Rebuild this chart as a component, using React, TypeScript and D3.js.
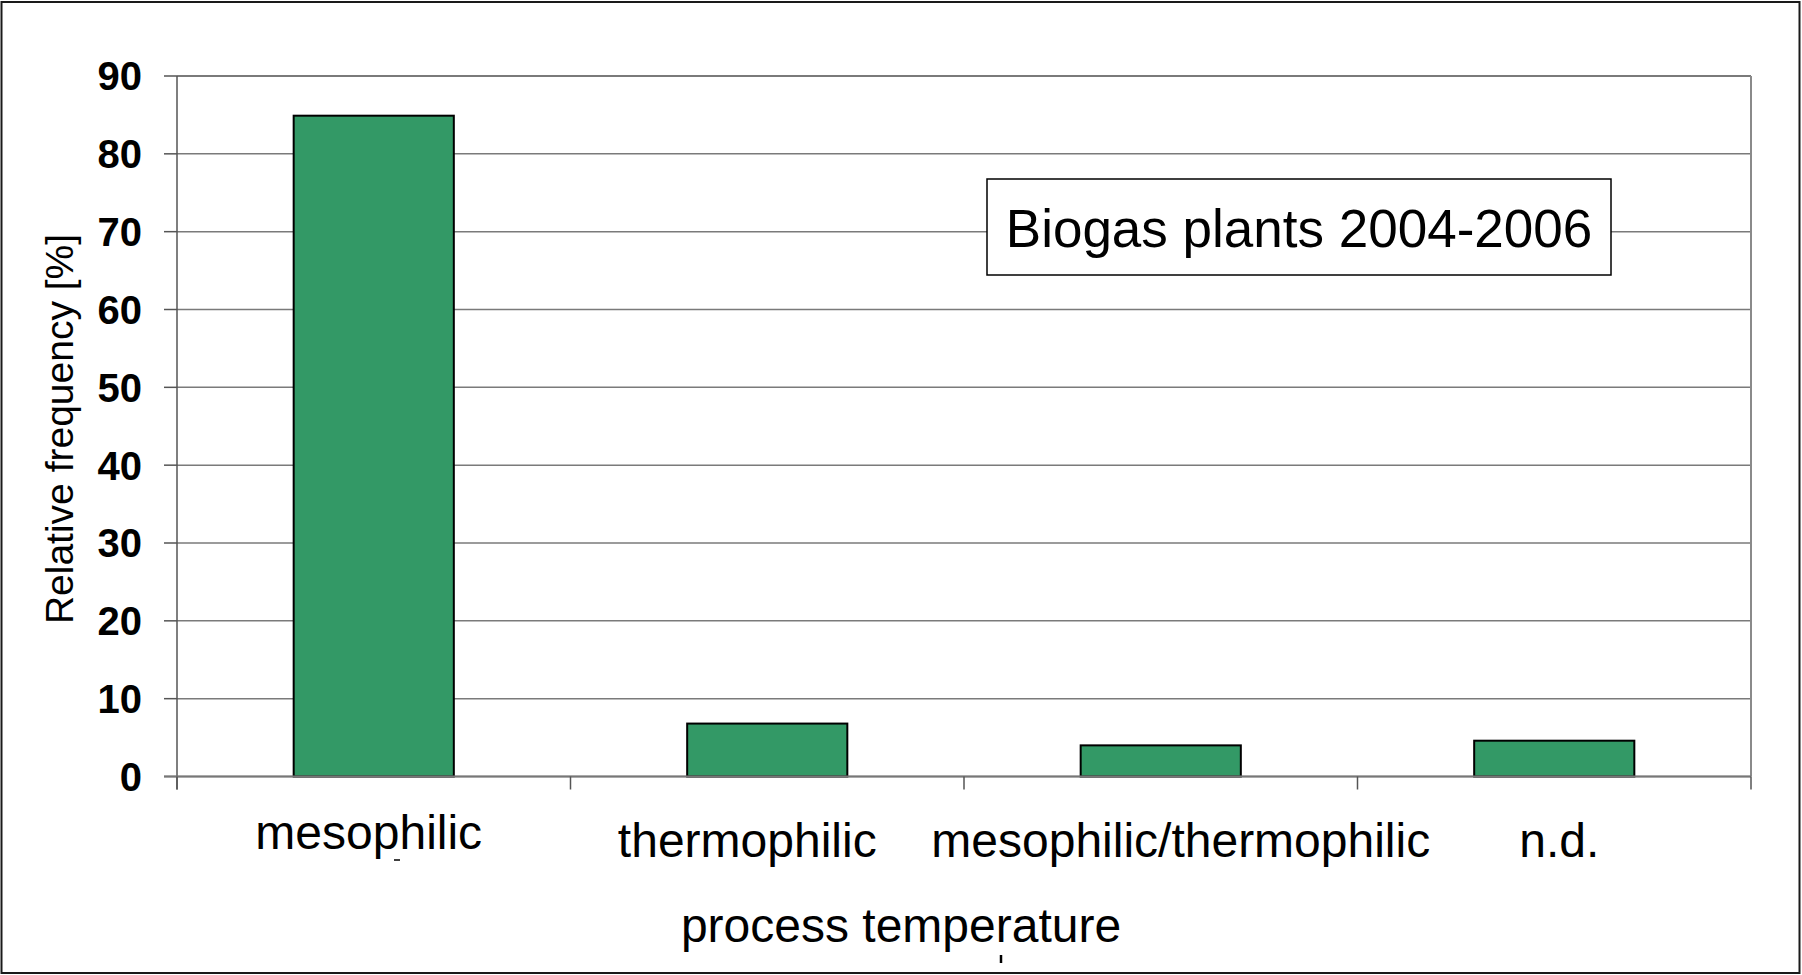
import * as d3 from "d3";
import React from "react";

// Process temperature of biogas plants 2004-2006
const categories = ["mesophilic", "thermophilic", "mesophilic/thermophilic", "n.d."];
const frequency = [84.9, 6.8, 4.0, 4.6];
const yTicks = [0, 10, 20, 30, 40, 50, 60, 70, 80, 90];

const W = 1802;
const H = 975;
const plot = { left: 177, right: 1751, top: 76, bottom: 776.5 };
const font = "Arial, 'Liberation Sans', Helvetica, sans-serif";
// small label shifts seen in the original
const labelShift = [
  { dx: -5, dy: -8 },
  { dx: -20, dy: 0 },
  { dx: 20, dy: 0 },
  { dx: 5, dy: 0 },
];

const App: React.FC = () => {
  const x = d3
    .scaleBand<string>()
    .domain(categories)
    .range([plot.left, plot.right])
    .paddingInner(0.593)
    .paddingOuter(0.2965);

  const y = d3.scaleLinear().domain([0, 90]).range([plot.bottom, plot.top]);

  const step = x.step();
  const catTicks = d3.range(categories.length + 1).map((i) => plot.left + i * step);

  return (
    <svg
      width={W}
      height={H}
      style={{ position: "absolute", left: 0, top: 0, background: "#fff" }}
      fontFamily={font}
    >
      <rect x={1.5} y={2} width={1798} height={971} fill="#fff" stroke="#1a1a1a" strokeWidth={2} />

      {/* gridlines */}
      {yTicks.map((t) => (
        <line
          key={`g${t}`}
          x1={plot.left}
          x2={plot.right}
          y1={y(t)}
          y2={y(t)}
          stroke="#7a7a7a"
          strokeWidth={t === 90 ? 2 : 1.5}
        />
      ))}
      {/* right plot border */}
      <line x1={plot.right} x2={plot.right} y1={plot.top} y2={plot.bottom} stroke="#8a8a8a" strokeWidth={2} />

      {/* bars */}
      {categories.map((c, i) => (
        <rect
          key={c}
          x={x(c)}
          y={y(frequency[i])}
          width={x.bandwidth()}
          height={y(0) - y(frequency[i])}
          fill="#339966"
          stroke="#000"
          strokeWidth={2}
        />
      ))}

      {/* y axis */}
      <line x1={plot.left} x2={plot.left} y1={plot.top} y2={plot.bottom + 13} stroke="#555" strokeWidth={1.5} />
      {yTicks.map((t) => (
        <g key={`t${t}`}>
          <line x1={plot.left - 13} x2={plot.left} y1={y(t)} y2={y(t)} stroke="#555" strokeWidth={1.5} />
          <text
            x={142}
            y={y(t)}
            dy="0.36em"
            textAnchor="end"
            fontSize={40}
            fontWeight="bold"
            fill="#000"
          >
            {t}
          </text>
        </g>
      ))}

      {/* x axis */}
      <line x1={plot.left - 13} x2={plot.right} y1={y(0)} y2={y(0)} stroke="#777" strokeWidth={2} />
      {catTicks.map((tx, i) => (
        <line key={`c${i}`} x1={tx} x2={tx} y1={y(0)} y2={y(0) + 13} stroke="#555" strokeWidth={1.5} />
      ))}
      {categories.map((c, i) => (
        <text
          key={`l${c}`}
          x={(x(c) ?? 0) + x.bandwidth() / 2 + labelShift[i].dx}
          y={857 + labelShift[i].dy}
          textAnchor="middle"
          fontSize={48}
          fill="#000"
        >
          {c}
        </text>
      ))}
      {/* stray marks from the source */}
      <line x1={394} x2={400} y1={860} y2={860} stroke="#000" strokeWidth={1.5} />

      <text x={901} y={942} textAnchor="middle" fontSize={48} fill="#000">
        process temperature
      </text>
      <line x1={1001} x2={1001} y1={955} y2={963} stroke="#000" strokeWidth={2.5} />

      <text
        transform={`translate(73,429) rotate(-90)`}
        textAnchor="middle"
        fontSize={39}
        fill="#000"
      >
        Relative frequency [%]
      </text>

      {/* legend box */}
      <rect x={987} y={179} width={624} height={96} fill="#fff" stroke="#000" strokeWidth={1.5} />
      <text x={1299} y={247} textAnchor="middle" fontSize={53} fill="#000">
        Biogas plants 2004-2006
      </text>
    </svg>
  );
};

export default App;
